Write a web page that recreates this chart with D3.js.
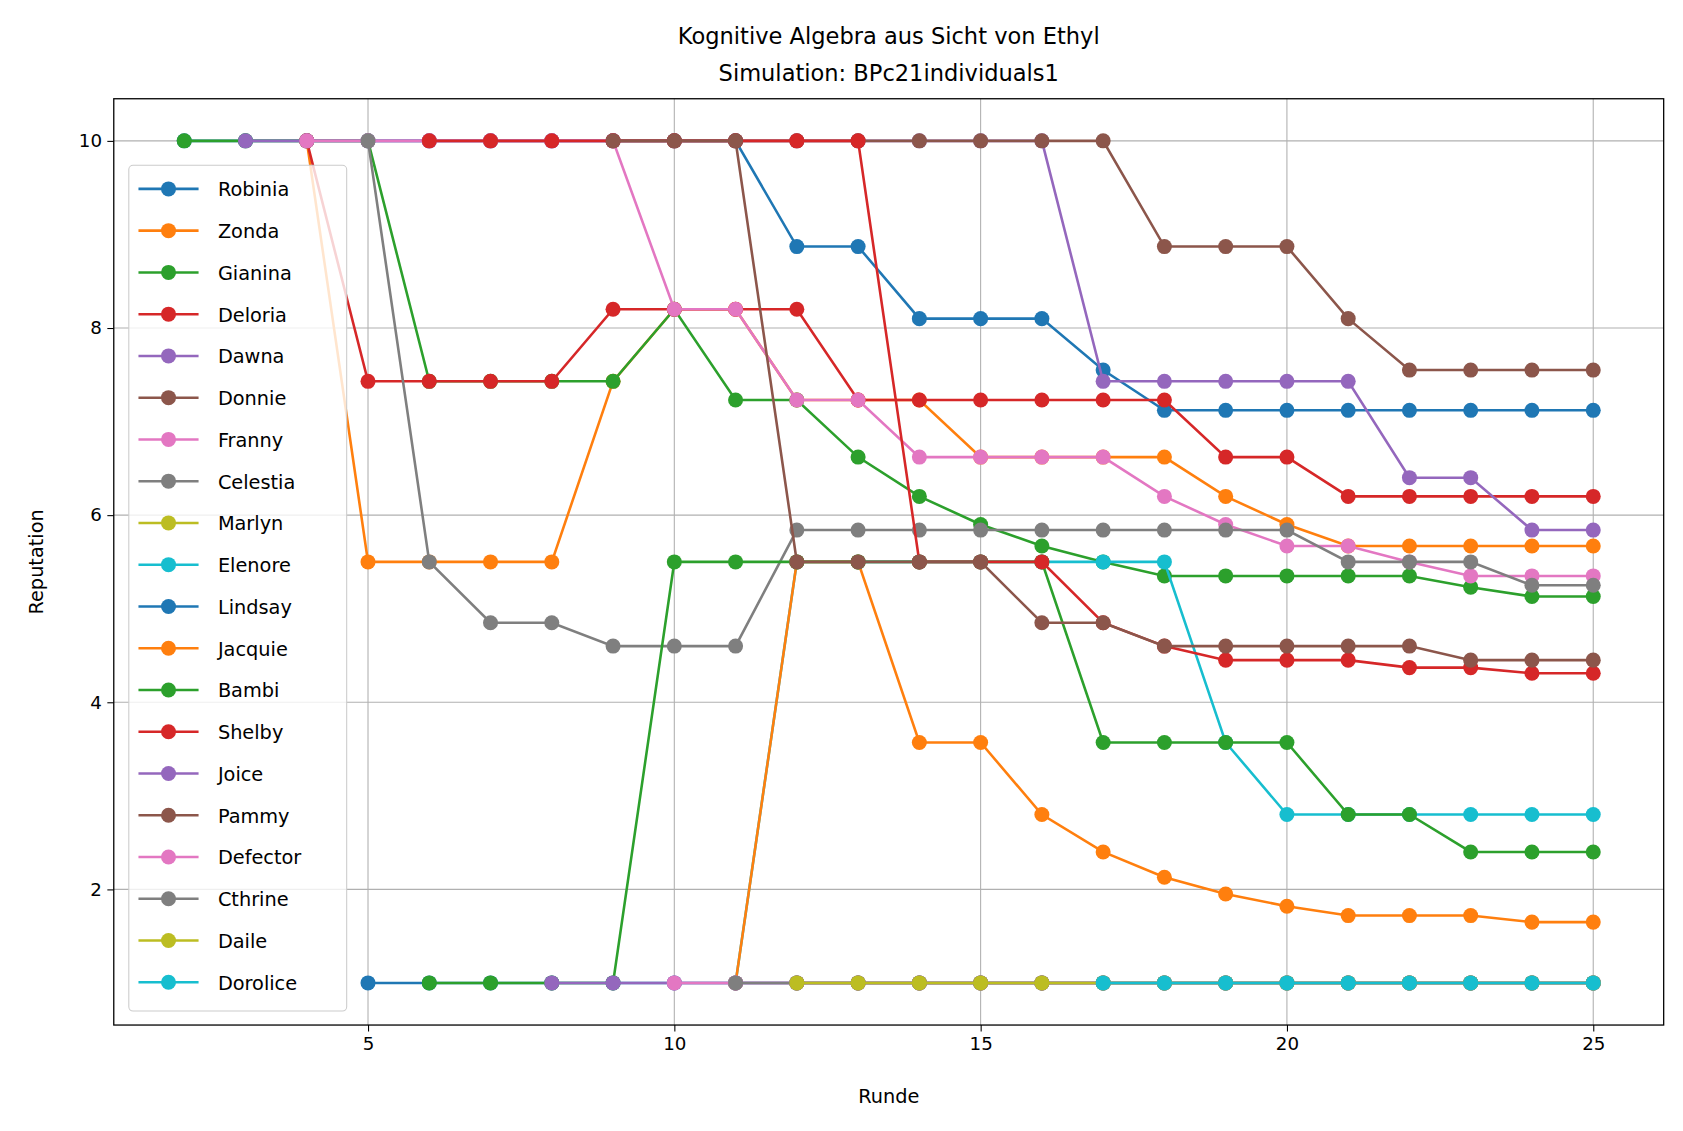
<!DOCTYPE html>
<html><head><meta charset="utf-8">
<script src="https://cdn.jsdelivr.net/npm/d3@7"></script>
<style>body{margin:0;background:#fff;font-family:"DejaVu Sans",sans-serif}</style>
</head><body><div id="chart"></div>
<script>
const names = ["Robinia","Zonda","Gianina","Deloria","Dawna","Donnie","Franny","Celestia","Marlyn","Elenore",
  "Lindsay","Jacquie","Bambi","Shelby","Joice","Pammy","Defector","Cthrine","Daile","Dorolice"];
const colors = ["#1f77b4","#ff7f0e","#2ca02c","#d62728","#9467bd","#8c564b","#e377c2","#7f7f7f","#bcbd22","#17becf"];
// start round of each series, then values per round
const starts = [2,4,2,4,3,9,4,5,12,11, 5,11,6,6,8,9,10,11,12,17];
const values = [
  [10,10,10,10,10,10,10,10,10,10,8.87,8.87,8.1,8.1,8.1,7.55,7.12,7.12,7.12,7.12,7.12,7.12,7.12,7.12],
  [10,5.5,5.5,5.5,5.5,7.43,8.2,8.2,7.23,7.23,7.23,6.62,6.62,6.62,6.62,6.2,5.9,5.67,5.67,5.67,5.67,5.67],
  [10,10,10,10,7.43,7.43,7.43,7.43,8.2,7.23,7.23,6.62,6.2,5.9,5.67,5.5,5.35,5.35,5.35,5.35,5.35,5.23,5.13,5.13],
  [10,7.43,7.43,7.43,7.43,8.2,8.2,8.2,8.2,7.23,7.23,7.23,7.23,7.23,7.23,6.62,6.62,6.2,6.2,6.2,6.2,6.2],
  [10,10,10,10,10,10,10,10,10,10,10,10,10,10,7.43,7.43,7.43,7.43,7.43,6.4,6.4,5.84,5.84],
  [10,10,10,10,10,10,10,10,10,8.87,8.87,8.87,8.1,7.55,7.55,7.55,7.55],
  [10,10,10,10,10,10,8.2,8.2,7.23,7.23,6.62,6.62,6.62,6.62,6.2,5.9,5.67,5.67,5.5,5.35,5.35,5.35],
  [10,5.5,4.85,4.85,4.6,4.6,4.6,5.84,5.84,5.84,5.84,5.84,5.84,5.84,5.84,5.84,5.5,5.5,5.5,5.25,5.25],
  [1,1,1,1,1,1,1,1,1,1,1,1,1,1],
  [1,5.5,5.5,5.5,5.5,5.5,5.5,5.5,3.57,2.8,2.8,2.8,2.8,2.8,2.8],
  [1,1,1,1,1,1,1,1,1,1,1,1,1,1,1,1,1,1,1,1,1],
  [1,5.5,5.5,3.57,3.57,2.8,2.4,2.13,1.95,1.82,1.72,1.72,1.72,1.65,1.65],
  [1,1,1,1,5.5,5.5,5.5,5.5,5.5,5.5,5.5,3.57,3.57,3.57,3.57,2.8,2.8,2.4,2.4,2.4],
  [10,10,10,10,10,10,10,10,5.5,5.5,5.5,4.85,4.6,4.45,4.45,4.45,4.37,4.37,4.31,4.31],
  [1,1,1,1,1,1,1,1,1,1,1,1,1,1,1,1,1,1],
  [10,10,10,5.5,5.5,5.5,5.5,4.85,4.85,4.6,4.6,4.6,4.6,4.6,4.45,4.45,4.45],
  [1,1,1,1,1,1,1,1,1,1,1,1,1,1,1,1],
  [1,1,1,1,1,1,1,1,1,1,1,1,1,1,1],
  [1,1,1,1,1,1,1,1,1,1,1,1,1,1],
  [1,1,1,1,1,1,1,1,1]
];
const xTicks = [5,10,15,20,25];
const yTicks = [2,4,6,8,10];

const width = 1683, height = 1131;
const k = 1683 / 1568;
const m = {left:106, right:1550, top:92, bottom:955};
const svg0 = d3.select('#chart').append('svg').attr('width', width).attr('height', height);
const svg = svg0.append('g').attr('transform', `scale(${k})`);
const x = d3.scaleLinear().domain([0.85, 26.15]).range([m.left, m.right]);
const y = d3.scaleLinear().domain([0.55, 10.45]).range([m.bottom, m.top]);

// grid
svg.append('g').selectAll('line').data(xTicks).enter().append('line')
  .attr('x1', d => x(d)).attr('x2', d => x(d)).attr('y1', m.top).attr('y2', m.bottom)
  .attr('stroke', '#b0b0b0').attr('stroke-width', 1);
svg.append('g').selectAll('line').data(yTicks).enter().append('line')
  .attr('y1', d => y(d)).attr('y2', d => y(d)).attr('x1', m.left).attr('x2', m.right)
  .attr('stroke', '#b0b0b0').attr('stroke-width', 1);

const line = d3.line().x(d => x(d[0])).y(d => y(d[1]));
names.forEach((n, i) => {
  const pts = values[i].map((v, j) => [starts[i] + j, v]);
  const c = colors[i % 10];
  const g = svg.append('g');
  g.append('path').datum(pts).attr('d', line).attr('fill', 'none').attr('stroke', c).attr('stroke-width', 2.4);
  g.selectAll('circle').data(pts).enter().append('circle')
    .attr('cx', d => x(d[0])).attr('cy', d => y(d[1])).attr('r', 7).attr('fill', c);
});

// axes
const xa = svg.append('g').attr('transform', `translate(0,${m.bottom})`)
  .call(d3.axisBottom(x).tickValues(xTicks).tickSize(6).tickPadding(5));
const ya = svg.append('g').attr('transform', `translate(${m.left},0)`)
  .call(d3.axisLeft(y).tickValues(yTicks).tickSize(6).tickPadding(5));
[xa, ya].forEach(a => { a.selectAll('text').attr('font-size', 17).attr('font-family', 'DejaVu Sans').attr('fill', '#000');
  a.select('.domain').remove(); a.selectAll('.tick line').attr('stroke', '#000'); });
svg.append('rect').attr('x', m.left).attr('y', m.top).attr('width', m.right - m.left).attr('height', m.bottom - m.top)
  .attr('fill', 'none').attr('stroke', '#000').attr('stroke-width', 1.2);

svg.append('text').attr('x', (m.left + m.right) / 2).attr('y', 1028).attr('text-anchor', 'middle')
  .attr('font-size', 18).text('Runde');
svg.append('text').attr('transform', `translate(40,${(m.top + m.bottom) / 2}) rotate(-90)`).attr('text-anchor', 'middle')
  .attr('font-size', 18).text('Reputation');
svg.append('text').attr('x', (m.left + m.right) / 2).attr('y', 41).attr('text-anchor', 'middle')
  .attr('font-size', 21).text('Kognitive Algebra aus Sicht von Ethyl');
svg.append('text').attr('x', (m.left + m.right) / 2).attr('y', 75).attr('text-anchor', 'middle')
  .attr('font-size', 21).text('Simulation: BPc21individuals1');

// legend
const lg = svg.append('g');
lg.append('rect').attr('x', 120).attr('y', 154).attr('width', 203).attr('height', 788).attr('rx', 4)
  .attr('fill', 'rgba(255,255,255,0.8)').attr('stroke', '#ccc');
names.forEach((n, i) => {
  const yy = 176 + i * 38.9, c = colors[i % 10];
  lg.append('line').attr('x1', 129).attr('x2', 185).attr('y1', yy).attr('y2', yy).attr('stroke', c).attr('stroke-width', 2.4);
  lg.append('circle').attr('cx', 157).attr('cy', yy).attr('r', 7).attr('fill', c);
  lg.append('text').attr('x', 203).attr('y', yy + 7).attr('font-size', 18).text(n);
});
</script></body></html>
